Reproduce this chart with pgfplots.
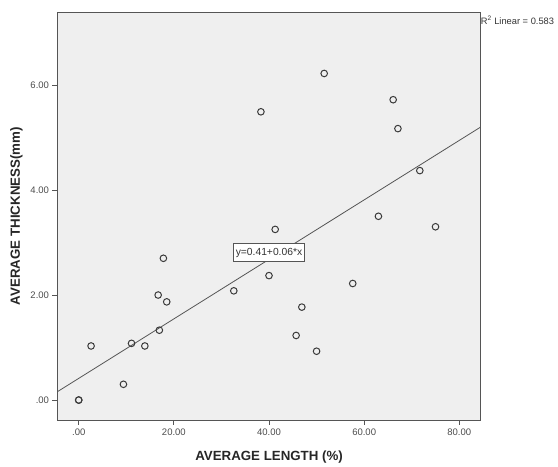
\documentclass[border=0pt]{standalone}
\usepackage{fontspec}
\setmainfont{Liberation Sans}
\usepackage{pgfplots}
\pgfplotsset{compat=1.18}

\definecolor{bggray}{HTML}{EFEFEF}
\definecolor{framegray}{HTML}{555555}
\definecolor{markgray}{HTML}{3A3A3A}

\begin{document}
\begin{tikzpicture}
\begin{axis}[
    scale only axis,
    width=423.2pt, height=407.7pt,
    xmin=-4.46, xmax=84.5,
    ymin=-0.38, ymax=7.385,
    xtick={0,20,40,60,80},
    xticklabels={.00,20.00,40.00,60.00,80.00},
    ytick={0,2,4,6},
    yticklabels={.00,2.00,4.00,6.00},
    tick align=outside, tick pos=left,
    major tick length=5pt,
    tick style={framegray, line width=0.8pt},
    axis line style={framegray, line width=0.9pt},
    axis background/.style={fill=bggray},
    ticklabel style={font=\fontsize{9.5}{11}\selectfont, text=black!70},
    /pgf/number format/assume math mode=true,
    xlabel={AVERAGE LENGTH (\%)},
    xlabel style={font=\fontsize{13.3}{15}\selectfont\bfseries, text=black!85,
                  at={(axis description cs:0.5,0)}, anchor=base, yshift=-40.7pt},
    clip=false,
]
% regression line
\addplot[framegray, line width=0.8pt] coordinates {(-4.46,0.16) (84.5,5.2)};
% observations
\addplot[only marks, mark=o, mark size=3.3pt, markgray, line width=1pt] coordinates {
    (0,0) (0,0) (2.6,1.03) (9.4,0.30) (11.1,1.08) (13.9,1.03)
    (16.95,1.33) (16.7,2.00) (18.5,1.87) (17.8,2.70)
    (32.6,2.08) (40.0,2.37) (41.3,3.25) (38.3,5.49)
    (45.7,1.23) (46.9,1.77) (50.0,0.93) (51.6,6.22)
    (57.6,2.22) (63.0,3.50) (66.1,5.72) (67.1,5.17)
    (71.7,4.37) (75.0,3.30)
};
\node[draw=framegray, fill=white, line width=0.8pt, inner xsep=2.5pt, inner ysep=4pt,
      font=\fontsize{10.3}{12}\selectfont, text=black!80]
    at (axis cs:40.0,2.81) {y=0.41+0.06*x};
\node[anchor=west, inner sep=0pt, font=\fontsize{9.3}{11}\selectfont, text=black!80]
    at (rel axis cs:1,0.981) {R\textsuperscript{2} Linear = 0.583};
\end{axis}
\node[rotate=90, font=\fontsize{13.3}{15}\selectfont\bfseries, text=black!85]
    at ([xshift=-41pt]current axis.west) {AVERAGE THICKNESS(mm)};
\path (current axis.south west) ++(-57.5pt,-43pt) rectangle ++(558pt,463pt);
\end{tikzpicture}
\end{document}
